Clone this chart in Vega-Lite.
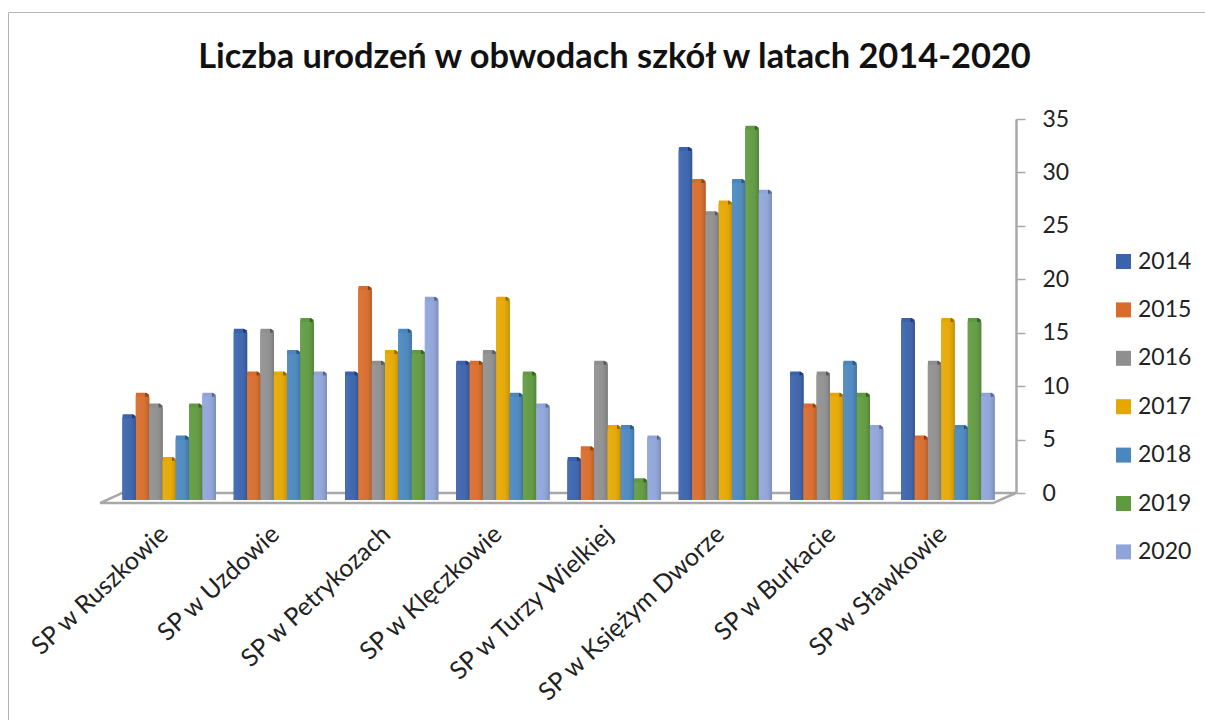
{"$schema":"https://vega.github.io/schema/vega-lite/v6.json","autosize":"none","padding":{"left":8,"top":12,"right":0,"bottom":0},"width":1197,"height":708,"background":"white","config":{"view":{"stroke":"#b4b4b4","strokeWidth":1}},"title":{"text":"Liczba urodzeń w obwodach szkół w latach 2014-2020","font":"Lato","fontSize":34.4,"fontWeight":"bold","color":"#111111","offset":-63,"dx":8},"datasets":{"floor":[{"p":0,"v":-0.94,"o":0},{"p":97.5,"v":-0.94,"o":1},{"p":100,"v":0,"o":2},{"p":2.4,"v":0,"o":3},{"p":0,"v":-0.94,"o":4}],"bars":[
{"s":"SP w Ruszkowie","year":"2014","v":7},{"s":"SP w Ruszkowie","year":"2015","v":9},{"s":"SP w Ruszkowie","year":"2016","v":8},{"s":"SP w Ruszkowie","year":"2017","v":3},{"s":"SP w Ruszkowie","year":"2018","v":5},{"s":"SP w Ruszkowie","year":"2019","v":8},{"s":"SP w Ruszkowie","year":"2020","v":9},
{"s":"SP w Uzdowie","year":"2014","v":15},{"s":"SP w Uzdowie","year":"2015","v":11},{"s":"SP w Uzdowie","year":"2016","v":15},{"s":"SP w Uzdowie","year":"2017","v":11},{"s":"SP w Uzdowie","year":"2018","v":13},{"s":"SP w Uzdowie","year":"2019","v":16},{"s":"SP w Uzdowie","year":"2020","v":11},
{"s":"SP w Petrykozach","year":"2014","v":11},{"s":"SP w Petrykozach","year":"2015","v":19},{"s":"SP w Petrykozach","year":"2016","v":12},{"s":"SP w Petrykozach","year":"2017","v":13},{"s":"SP w Petrykozach","year":"2018","v":15},{"s":"SP w Petrykozach","year":"2019","v":13},{"s":"SP w Petrykozach","year":"2020","v":18},
{"s":"SP w Klęczkowie","year":"2014","v":12},{"s":"SP w Klęczkowie","year":"2015","v":12},{"s":"SP w Klęczkowie","year":"2016","v":13},{"s":"SP w Klęczkowie","year":"2017","v":18},{"s":"SP w Klęczkowie","year":"2018","v":9},{"s":"SP w Klęczkowie","year":"2019","v":11},{"s":"SP w Klęczkowie","year":"2020","v":8},
{"s":"SP w Turzy Wielkiej","year":"2014","v":3},{"s":"SP w Turzy Wielkiej","year":"2015","v":4},{"s":"SP w Turzy Wielkiej","year":"2016","v":12},{"s":"SP w Turzy Wielkiej","year":"2017","v":6},{"s":"SP w Turzy Wielkiej","year":"2018","v":6},{"s":"SP w Turzy Wielkiej","year":"2019","v":1},{"s":"SP w Turzy Wielkiej","year":"2020","v":5},
{"s":"SP w Księżym Dworze","year":"2014","v":32},{"s":"SP w Księżym Dworze","year":"2015","v":29},{"s":"SP w Księżym Dworze","year":"2016","v":26},{"s":"SP w Księżym Dworze","year":"2017","v":27},{"s":"SP w Księżym Dworze","year":"2018","v":29},{"s":"SP w Księżym Dworze","year":"2019","v":34},{"s":"SP w Księżym Dworze","year":"2020","v":28},
{"s":"SP w Burkacie","year":"2014","v":11},{"s":"SP w Burkacie","year":"2015","v":8},{"s":"SP w Burkacie","year":"2016","v":11},{"s":"SP w Burkacie","year":"2017","v":9},{"s":"SP w Burkacie","year":"2018","v":12},{"s":"SP w Burkacie","year":"2019","v":9},{"s":"SP w Burkacie","year":"2020","v":6},
{"s":"SP w Sławkowie","year":"2014","v":16},{"s":"SP w Sławkowie","year":"2015","v":5},{"s":"SP w Sławkowie","year":"2016","v":12},{"s":"SP w Sławkowie","year":"2017","v":16},{"s":"SP w Sławkowie","year":"2018","v":6},{"s":"SP w Sławkowie","year":"2019","v":16},{"s":"SP w Sławkowie","year":"2020","v":9}
]},
"resolve":{"scale":{"x":"independent"},"axis":{"x":"independent"}},
"layer":[
{"data":{"name":"floor"},"mark":{"type":"line","color":"#a8a8a8","strokeWidth":2.5,"clip":false},"encoding":{"x":{"field":"p","type":"quantitative","axis":null,"scale":{"domain":[0,100],"range":[92,1008],"nice":false,"zero":false}},"y":{"field":"v","type":"quantitative","title":null,"scale":{"domain":[0,35],"range":[481,107],"nice":false,"zero":false},"axis":{"orient":"right","offset":-189,"values":[0,5,10,15,20,25,30,35],"grid":false,"domainColor":"#a8a8a8","domainWidth":2.5,"tickColor":"#a8a8a8","tickWidth":1.5,"tickSize":9,"labelFont":"Lato","labelFontSize":23,"labelColor":"#222222","labelPadding":17}},"order":{"field":"o","type":"ordinal"}}},
{"data":{"name":"bars"},
"encoding":{"x":{"field":"s","type":"nominal","sort":null,"title":null,"scale":{"range":[105.5,995.5],"paddingInner":0,"paddingOuter":0},"axis":{"orient":"bottom","offset":-217,"domain":false,"ticks":false,"labelAngle":-43,"labelAlign":"right","labelBaseline":"middle","labelFont":"Lato","labelFontSize":25,"labelColor":"#222222","labelPadding":27,"labelOffset":-5,"labelLimit":400}},
"xOffset":{"field":"year","type":"nominal","sort":null,"scale":{"paddingInner":0,"paddingOuter":0.68}},
"y":{"field":"v","type":"quantitative","stack":null,"title":null,"scale":{"domain":[0,35],"range":[481,107],"nice":false,"zero":false}},
"y2":{"datum":-0.65}},
"layer":[
{"mark":{"type":"bar","xOffset":4,"yOffset":-4,"cornerRadiusTopRight":4,"cornerRadiusTopLeft":1},"encoding":{"color":{"field":"year","type":"nominal","title":null,"scale":{"domain":["2014","2015","2016","2017","2018","2019","2020"],"range":["#3a62ad","#d86c2a","#8f8f8f","#e6a800","#4a87bf","#5f9a3f","#8fa4d9"]},"legend":{"orient":"none","legendX":1104,"legendY":238,"symbolType":"square","symbolSize":225,"symbolStrokeWidth":0,"labelFont":"Lato","labelFontSize":23,"labelColor":"#222222","labelOffset":3,"rowPadding":24.4,"labelLimit":100}}}},
{"mark":{"type":"bar","xOffset":2,"yOffset":-2.5,"cornerRadiusTopLeft":2},"encoding":{"color":{"field":"year","type":"nominal"}}},
{"mark":{"type":"bar","xOffset":4,"yOffset":-4,"cornerRadiusTopRight":4,"cornerRadiusTopLeft":1,"color":{"gradient":"linear","x1":0,"x2":1,"y1":0,"y2":0,"stops":[{"offset":0,"color":"rgba(0,0,0,0)"},{"offset":0.68,"color":"rgba(0,0,0,0)"},{"offset":0.74,"color":"rgba(0,0,0,0.42)"},{"offset":1,"color":"rgba(0,0,0,0.22)"}]}}},
{"mark":{"type":"bar"},"encoding":{"color":{"field":"year","type":"nominal"}}},
{"mark":{"type":"bar","color":{"gradient":"linear","x1":0,"x2":1,"y1":0,"y2":0,"stops":[{"offset":0,"color":"rgba(255,255,255,0.08)"},{"offset":0.5,"color":"rgba(255,255,255,0.04)"},{"offset":1,"color":"rgba(0,0,0,0.14)"}]}}}
]}
]}
